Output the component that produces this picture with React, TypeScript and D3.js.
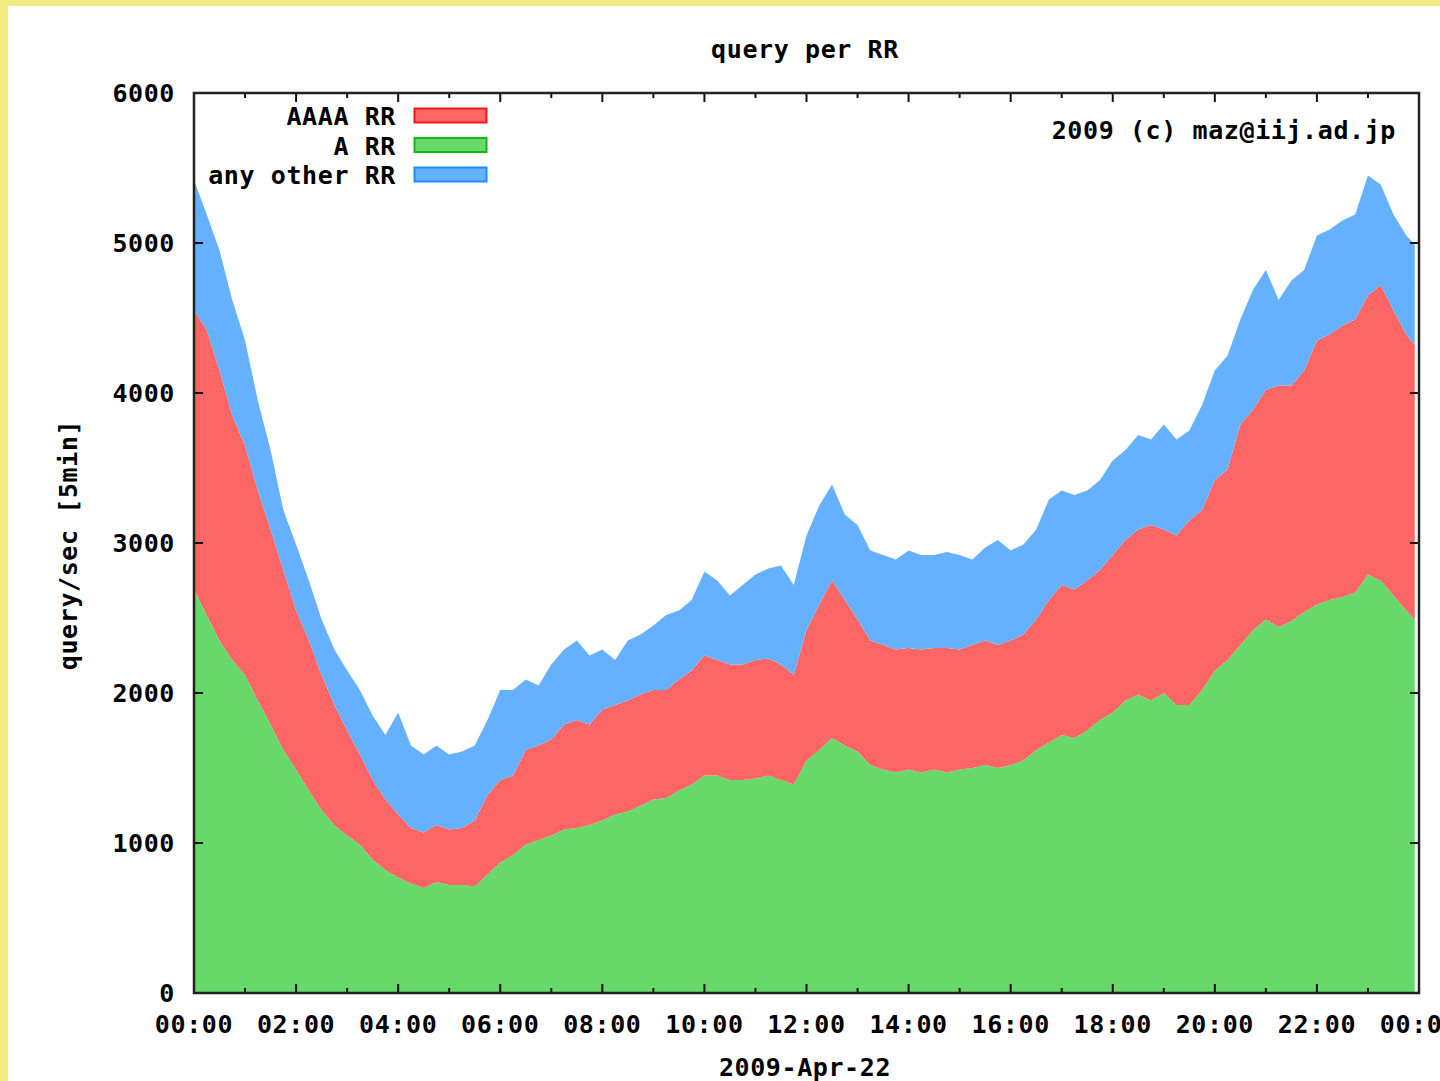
import React from "react";
import * as d3 from "d3";

// 15-minute samples from 00:00, last one at 23:55
const minutes = [...d3.range(0, 1440, 15), 1435];

const aRR = [
  2690, 2520, 2350, 2220, 2120, 1950, 1790, 1620, 1490, 1350, 1220, 1120,
  1050, 990, 890, 820, 770, 730, 700, 740, 720, 720, 710, 790,
  870, 920, 990, 1020, 1050, 1090, 1100, 1120, 1150, 1190, 1210, 1250,
  1290, 1300, 1350, 1390, 1450, 1450, 1420, 1420, 1430, 1450, 1420, 1390,
  1550, 1620, 1700, 1650, 1610, 1520, 1490, 1470, 1490, 1470, 1490, 1470,
  1490, 1500, 1520, 1500, 1520, 1550, 1620, 1670, 1720, 1700, 1750, 1820,
  1870, 1950, 1990, 1950, 2000, 1920, 1920, 2020, 2150, 2220, 2320, 2420,
  2490, 2440, 2480, 2540, 2590, 2620, 2640, 2670, 2790, 2750, 2650, 2550,
  2490,
];

const aaaaRR = [
  1860, 1900, 1800, 1630, 1530, 1400, 1300, 1200, 1060, 1000, 900, 800,
  700, 600, 530, 470, 420, 370, 370, 380, 370, 380, 440, 530,
  550, 530, 630, 630, 640, 700, 720, 670, 740, 730, 740, 740,
  730, 720, 740, 760, 800, 770, 770, 770, 790, 780, 770, 730,
  870, 970, 1050, 970, 880, 830, 830, 820, 810, 820, 810, 830,
  800, 820, 830, 820, 830, 840, 870, 950, 1000, 990, 1000, 1000,
  1050, 1070, 1100, 1170, 1090, 1130, 1230, 1200, 1270, 1270, 1470, 1470,
  1530, 1610, 1570, 1610, 1760, 1770, 1810, 1820, 1860, 1970, 1900, 1840,
  1830,
];

const otherRR = [
  870, 770, 800, 770, 700, 600, 530, 400, 440, 400, 370, 370,
  400, 430, 430, 430, 680, 550, 520, 530, 500, 510, 500, 500,
  600, 570, 470, 400, 500, 500, 530, 460, 400, 300, 400, 400,
  430, 500, 460, 470, 560, 530, 460, 530, 570, 600, 660, 600,
  630, 660, 640, 570, 630, 600, 600, 600, 650, 630, 620, 640,
  630, 570, 620, 700, 600, 600, 600, 670, 630, 630, 600, 600,
  630, 600, 630, 570, 700, 640, 600, 700, 730, 760, 700, 800,
  800, 570, 700, 670, 700, 700, 700, 700, 800, 670, 640, 660,
  670,
];

const seriesKeys = ["A RR", "AAAA RR", "any other RR"];
const legendOrder = ["AAAA RR", "A RR", "any other RR"];
const colors: Record<string, string> = {
  "A RR": "#67d96b",
  "AAAA RR": "#fe6565",
  "any other RR": "#66b1ff",
};
const borders: Record<string, string> = {
  "A RR": "#12b81a",
  "AAAA RR": "#f01818",
  "any other RR": "#1a8cff",
};

const yTicks = [0, 1000, 2000, 3000, 4000, 5000, 6000];
const xTickLabels = [
  "00:00", "02:00", "04:00", "06:00", "08:00", "10:00", "12:00",
  "14:00", "16:00", "18:00", "20:00", "22:00", "00:00",
];

const W = 1440;
const H = 1081;
const M = { left: 194, right: 1419, top: 93, bottom: 993 };
const FONT = "'DejaVu Sans Mono', monospace";

export default function App() {
  const x = d3.scaleLinear().domain([0, 1440]).range([M.left, M.right]);
  const y = d3.scaleLinear().domain([0, 6000]).range([M.bottom, M.top]);

  const rows = minutes.map((m, i) => ({
    t: m,
    "A RR": aRR[i],
    "AAAA RR": aaaaRR[i],
    "any other RR": otherRR[i],
  }));
  const stacked = d3.stack<any>().keys(seriesKeys)(rows);
  const area = d3
    .area<any>()
    .x((d) => x(d.data.t))
    .y0((d) => y(d[0]))
    .y1((d) => y(d[1]))
    .curve(d3.curveLinear);

  const minorX = d3.range(0, 1441, 60);
  const textStyle = {
    fontFamily: FONT,
    fontWeight: 700,
    fontSize: 25,
    letterSpacing: 0.6,
    fill: "#000",
  } as const;

  return (
    <svg
      width={W}
      height={H}
      style={{ position: "absolute", left: 0, top: 0, display: "block" }}
    >
      <rect x={0} y={0} width={W} height={H} fill="#f3ea84" />
      <rect x={8} y={6} width={W - 8} height={H - 6} fill="#fff" />

      <text x={805} y={58} textAnchor="middle" {...textStyle}>
        query per RR
      </text>

      {stacked.map((s) => (
        <path key={s.key} d={area(s) || ""} fill={colors[s.key]} />
      ))}

      {/* ticks */}
      {minorX.map((m) => {
        const len = m % 120 === 0 ? 9 : 5;
        return (
          <g key={m} stroke="#111" strokeWidth={2}>
            <line x1={x(m)} x2={x(m)} y1={M.top} y2={M.top + len} />
            <line x1={x(m)} x2={x(m)} y1={M.bottom} y2={M.bottom - len} />
          </g>
        );
      })}
      {yTicks.map((v) => (
        <g key={v} stroke="#111" strokeWidth={2}>
          <line x1={M.left} x2={M.left + 9} y1={y(v)} y2={y(v)} />
          <line x1={M.right} x2={M.right - 9} y1={y(v)} y2={y(v)} />
        </g>
      ))}

      <rect
        x={M.left}
        y={M.top}
        width={M.right - M.left}
        height={M.bottom - M.top}
        fill="none"
        stroke="#222"
        strokeWidth={2.5}
      />

      {yTicks.map((v) => (
        <text key={v} x={175} y={y(v) + 9} textAnchor="end" {...textStyle}>
          {v}
        </text>
      ))}
      {xTickLabels.map((lab, i) => (
        <text
          key={i}
          x={x(i * 120)}
          y={1033}
          textAnchor="middle"
          {...textStyle}
        >
          {lab}
        </text>
      ))}

      <text x={805} y={1076} textAnchor="middle" {...textStyle}>
        2009-Apr-22
      </text>
      <text
        transform="translate(77,545) rotate(-90)"
        textAnchor="middle"
        {...textStyle}
      >
        query/sec [5min]
      </text>

      <text x={1396} y={139} textAnchor="end" {...textStyle}>
        2009 (c) maz@iij.ad.jp
      </text>

      {legendOrder.map((k, i) => (
        <g key={k}>
          <text x={396} y={125 + i * 29.5} textAnchor="end" {...textStyle}>
            {k}
          </text>
          <rect
            x={414.5}
            y={108.5 + i * 29.5}
            width={72}
            height={14}
            fill={colors[k]}
            stroke={borders[k]}
            strokeWidth={2}
          />
        </g>
      ))}
    </svg>
  );
}
